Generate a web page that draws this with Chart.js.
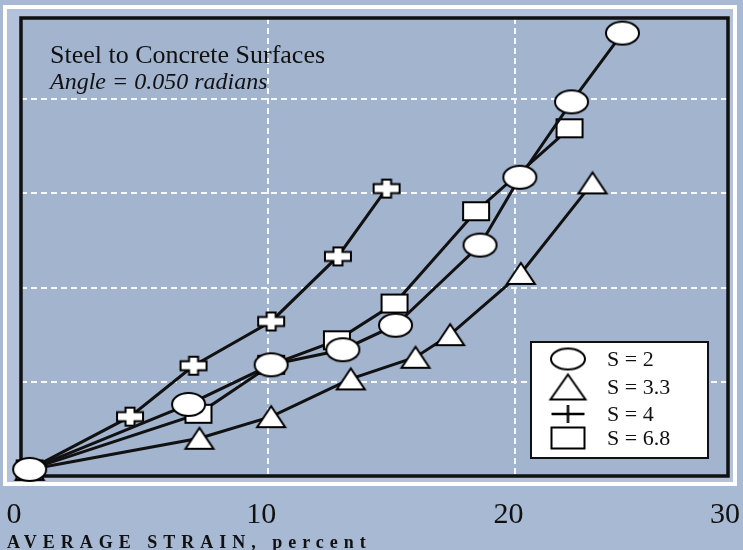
<!DOCTYPE html>
<html>
<head>
<meta charset="utf-8">
<script src="https://cdn.jsdelivr.net/npm/chart.js@4.4.0/dist/chart.umd.min.js"></script>
<style>
  html, body { margin: 0; padding: 0; background: #a8b9d3; }
</style>
</head>
<body>
<canvas id="myChart" width="743" height="550"></canvas>
<script>
// values (x = average strain in percent, y axis is unlabelled)
var s2X  = [0.35, 6.78, 10.12, 13.02, 15.15, 18.57, 20.18, 22.27, 24.33];
var s2Y  = [0.07, 0.76, 1.18, 1.34, 1.60, 2.45, 3.17, 3.97, 4.70];
var s33X = [0.35, 7.22, 10.12, 13.34, 15.96, 17.36, 20.22, 23.12];
var s33Y = [0.07, 0.40, 0.63, 1.03, 1.26, 1.50, 2.15, 3.11];
var s4X  = [0.35, 4.41, 6.98, 10.12, 12.82, 14.79];
var s4Y  = [0.07, 0.63, 1.17, 1.64, 2.33, 3.05];
var s68X = [0.35, 7.18, 10.12, 12.78, 15.11, 18.41, 22.19];
var s68Y = [0.07, 0.66, 1.18, 1.44, 1.83, 2.81, 3.69];

var seriesLabels = ['S = 2', 'S = 3.3', 'S = 4', 'S = 6.8'];
var xTickLabels = [0, 10, 20, 30];
var yGridValues = [1, 2, 3, 4];
var titleLine1 = 'Steel to Concrete Surfaces';
var titleLine2 = 'Angle = 0.050 radians';
var xAxisTitle = 'AVERAGE STRAIN, percent';

function pts(xs, ys) {
    return xs.map(function(x, i) { return {x: x, y: ys[i]}; });
}

// marker pictures used as pointStyle
function makeMarker(kind, w, h) {
    var c = document.createElement('canvas');
    c.width = w + 4;
    c.height = h + 4;
    var g = c.getContext('2d');
    g.translate(2, 2);
    g.fillStyle = '#fff';
    g.strokeStyle = '#000';
    g.lineWidth = 2;
    g.beginPath();
    if (kind === 'ellipse') {
        g.ellipse(w / 2, h / 2, w / 2 - 1, h / 2 - 1, 0, 0, Math.PI * 2);
    } else if (kind === 'triangle') {
        g.moveTo(w / 2, 1); g.lineTo(w - 1, h - 1); g.lineTo(1, h - 1); g.closePath();
    } else if (kind === 'rect') {
        g.rect(1, 1, w - 2, h - 2);
    } else if (kind === 'plus') {
        var t = 4.5, cx = w / 2, cy = h / 2;
        g.moveTo(cx - t, 1); g.lineTo(cx + t, 1); g.lineTo(cx + t, cy - t);
        g.lineTo(w - 1, cy - t); g.lineTo(w - 1, cy + t); g.lineTo(cx + t, cy + t);
        g.lineTo(cx + t, h - 1); g.lineTo(cx - t, h - 1); g.lineTo(cx - t, cy + t);
        g.lineTo(1, cy + t); g.lineTo(1, cy - t); g.lineTo(cx - t, cy - t);
        g.closePath();
    } else if (kind === 'cross') {
        g.lineWidth = 2.5;
        g.moveTo(1, h / 2); g.lineTo(w - 1, h / 2);
        g.moveTo(w / 2, 1); g.lineTo(w / 2, h - 1);
        g.stroke();
        return c;
    }
    g.fill();
    g.stroke();
    return c;
}

var markers = [makeMarker('ellipse', 35, 25), makeMarker('triangle', 30, 23),
               makeMarker('plus', 28, 20), makeMarker('rect', 28, 20)];
var legendMarkers = [makeMarker('ellipse', 36, 23), makeMarker('triangle', 37, 27),
                     makeMarker('cross', 35, 20), makeMarker('rect', 35, 23)];

var serif = '"Liberation Serif", "DejaVu Serif", serif';

var decorPlugin = {
    id: 'decor',
    beforeDraw: function(chart) {
        var ctx = chart.ctx, a = chart.chartArea;
        ctx.save();
        ctx.fillStyle = '#a8b9d3';
        ctx.fillRect(0, 0, chart.width, chart.height);
        // frame round the plot
        var fx = a.left - 16, fy = a.top - 11, fw = a.right + 7 - fx, fh = a.bottom + 8 - fy;
        ctx.fillStyle = '#b3c2da';
        ctx.fillRect(fx, fy, fw, fh);
        ctx.strokeStyle = '#ffffff';
        ctx.lineWidth = 4;
        ctx.strokeRect(fx, fy, fw, fh);
        ctx.fillStyle = '#a3b4ce';
        ctx.fillRect(a.left, a.top, a.right - a.left, a.bottom - a.top);
        ctx.restore();
    },
    beforeDatasetsDraw: function(chart) {
        var ctx = chart.ctx, a = chart.chartArea;
        ctx.save();
        ctx.strokeStyle = '#111';
        ctx.lineWidth = 3.5;
        ctx.strokeRect(a.left, a.top, a.right - a.left, a.bottom - a.top);
        ctx.restore();
    },
    afterDraw: function(chart) {
        var ctx = chart.ctx, a = chart.chartArea, xs = chart.scales.x;
        ctx.save();
        ctx.fillStyle = '#111';
        ctx.textBaseline = 'alphabetic';
        // note in the plot
        ctx.font = '26px ' + serif;
        ctx.fillText(titleLine1, a.left + 29, a.top + 45);
        ctx.font = 'italic 24px ' + serif;
        ctx.fillText(titleLine2, a.left + 29, a.top + 71);

        // x tick labels
        ctx.font = '30px ' + serif;
        ctx.textAlign = 'center';
        xTickLabels.forEach(function(v) {
            var px = Math.min(xs.getPixelForValue(v) - 7, chart.width - 18);
            ctx.fillText(String(v), px, a.bottom + 47);
        });

        // x axis title
        ctx.textAlign = 'left';
        ctx.font = 'bold 18px ' + serif;
        ctx.letterSpacing = '6px';
        ctx.fillText(xAxisTitle, 7, a.bottom + 72);
        ctx.letterSpacing = '0px';

        // legend box
        var lx = a.right - 197, ly = a.bottom - 134, lw = 177, lh = 116;
        ctx.fillStyle = '#fff';
        ctx.fillRect(lx, ly, lw, lh);
        ctx.strokeStyle = '#111';
        ctx.lineWidth = 2;
        ctx.strokeRect(lx, ly, lw, lh);
        var rows = [17, 45, 72, 96];
        ctx.fillStyle = '#111';
        ctx.font = '22px ' + serif;
        ctx.textBaseline = 'middle';
        chart.data.datasets.forEach(function(ds, i) {
            var m = legendMarkers[i];
            ctx.drawImage(m, lx + 37 - m.width / 2, ly + rows[i] - m.height / 2);
            ctx.fillText(ds.label, lx + 76, ly + rows[i] + 1);
        });
        ctx.restore();
    }
};

function makeSet(i, xs, ys) {
    return {
        label: seriesLabels[i],
        data: pts(xs, ys),
        borderColor: '#111',
        borderWidth: 3,
        pointStyle: markers[i],
        pointRadius: 12,
        pointHoverRadius: 12,
        tension: 0,
        fill: false,
        clip: false
    };
}

var ctx = document.getElementById('myChart').getContext('2d');
var chart = new Chart(ctx, {
    type: 'line',
    data: {
        datasets: [
            makeSet(0, s2X, s2Y),
            makeSet(1, s33X, s33Y),
            makeSet(2, s4X, s4Y),
            makeSet(3, s68X, s68Y)
        ]
    },
    options: {
        responsive: false,
        animation: false,
        layout: { padding: { left: 21, top: 18, right: 11, bottom: 74 } },
        plugins: {
            legend: { display: false },
            tooltip: { enabled: false },
            title: { display: false }
        },
        scales: {
            x: {
                type: 'linear',
                min: 0,
                max: 28.6,
                afterBuildTicks: function(s) {
                    s.ticks = xTickLabels.filter(function(v) { return v < 28.6; })
                        .map(function(v) { return {value: v}; });
                },
                ticks: { display: false },
                grid: { color: 'rgba(255,255,255,0.9)', lineWidth: 2, drawTicks: false },
                border: { display: false, dash: [6, 4] }
            },
            y: {
                type: 'linear',
                min: 0,
                max: 4.86,
                afterBuildTicks: function(s) {
                    s.ticks = yGridValues.map(function(v) { return {value: v}; });
                },
                ticks: { display: false },
                grid: { color: 'rgba(255,255,255,0.9)', lineWidth: 2, drawTicks: false },
                border: { display: false, dash: [6, 4] }
            }
        }
    },
    plugins: [decorPlugin]
});
</script>
</body>
</html>
